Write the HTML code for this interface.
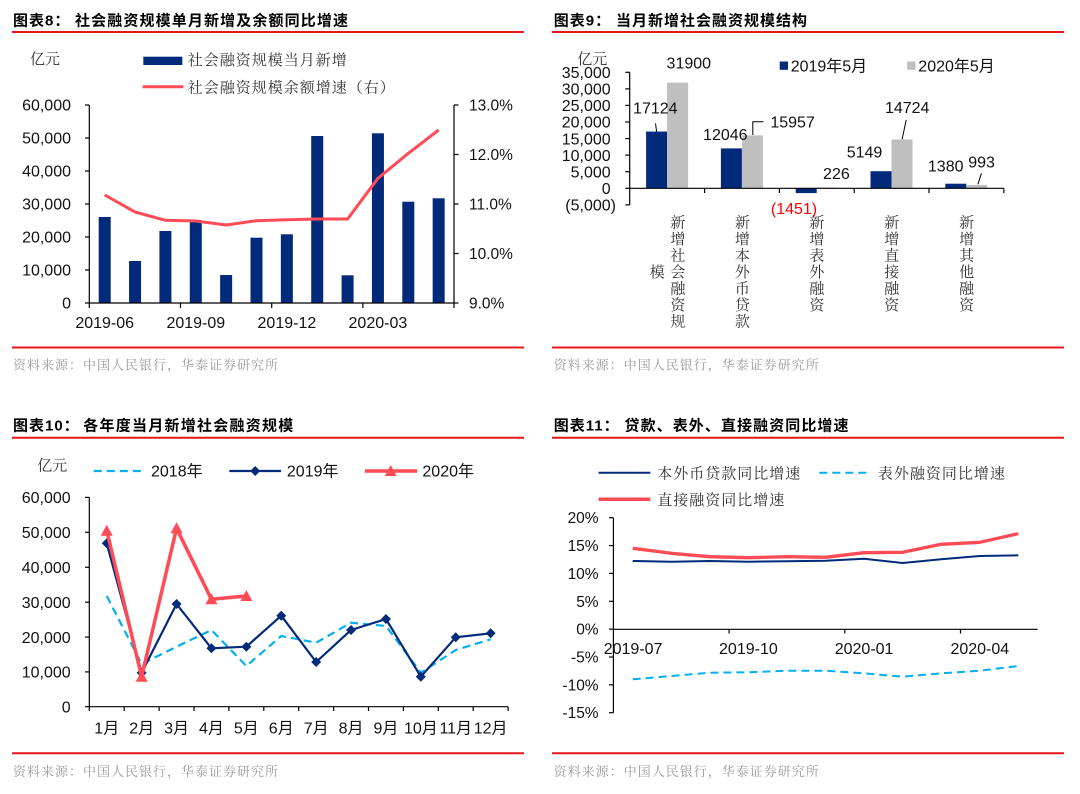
<!DOCTYPE html>
<html><head><meta charset="utf-8">
<style>
html,body{margin:0;padding:0;background:#fff;width:1080px;height:794px;overflow:hidden}
.t{font-family:"Liberation Sans","Noto Sans CJK SC",sans-serif;font-weight:bold;font-size:15px;letter-spacing:1px;fill:#000}
.n{font-family:"Liberation Sans","Noto Sans CJK SC",sans-serif;font-size:16px;fill:#111}
.m{font-family:"Liberation Sans","Noto Sans CJK SC",sans-serif;font-size:15.5px;fill:#111}
.c{font-family:"Liberation Sans","Noto Serif CJK SC",serif;font-size:15px;fill:#333;letter-spacing:1px}
.v{font-family:"Liberation Sans","Noto Serif CJK SC",serif;font-size:15px;fill:#333}
.s{font-family:"Liberation Sans","Noto Serif CJK SC",serif;font-size:13px;fill:#999}
</style></head>
<body>
<svg width="1080" height="794" xmlns="http://www.w3.org/2000/svg">
<!-- ============ Chart 8 ============ -->
<text class="t" x="13" y="25.5">图表8：</text>
<text class="t" x="75" y="25.5" textLength="274" lengthAdjust="spacing">社会融资规模单月新增及余额同比增速</text>
<line x1="12" y1="32" x2="524" y2="32" stroke="#E8151B" stroke-width="2"/>
<text class="v" x="30" y="64">亿元</text>
<rect x="143.3" y="56.7" width="39" height="8.3" fill="#012A7A"/>
<text class="c" x="187.7" y="65">社会融资规模当月新增</text>
<line x1="142.7" y1="86.7" x2="183.3" y2="86.7" stroke="#FF4B55" stroke-width="3"/>
<text class="c" x="187.7" y="92.4">社会融资规模余额增速（右）</text>
<g fill="#012A7A">
<rect x="98.7" y="217" width="12" height="86"/>
<rect x="129.06" y="261" width="12" height="42"/>
<rect x="159.42" y="231" width="12" height="72"/>
<rect x="189.78" y="221.7" width="12" height="81.3"/>
<rect x="220.14" y="275" width="12" height="28"/>
<rect x="250.5" y="237.7" width="12" height="65.3"/>
<rect x="280.86" y="234.3" width="12" height="68.7"/>
<rect x="311.22" y="136" width="12" height="167"/>
<rect x="341.58" y="275.3" width="12" height="27.7"/>
<rect x="371.94" y="133.3" width="12" height="169.7"/>
<rect x="402.3" y="201.7" width="12" height="101.3"/>
<rect x="432.66" y="198.3" width="12" height="104.7"/>
</g>
<polyline fill="none" stroke="#FF4B55" stroke-width="3" stroke-linejoin="round" points="104.7,195 135.06,212 165.42,220.3 195.78,221 226.14,225 256.5,220.7 286.86,219.7 317.22,219 347.58,219 377.94,178.3 408.3,153.3 438.66,130"/>
<g stroke="#000" stroke-width="1.2">
<line x1="89.3" y1="105" x2="89.3" y2="303"/>
<line x1="454" y1="105" x2="454" y2="303"/>
<line x1="89.3" y1="303" x2="454" y2="303"/>
<line x1="85" y1="105" x2="89.3" y2="105"/><line x1="85" y1="138" x2="89.3" y2="138"/><line x1="85" y1="171" x2="89.3" y2="171"/><line x1="85" y1="204" x2="89.3" y2="204"/><line x1="85" y1="237" x2="89.3" y2="237"/><line x1="85" y1="270" x2="89.3" y2="270"/><line x1="85" y1="303" x2="89.3" y2="303"/>
<line x1="454" y1="105" x2="458.5" y2="105"/><line x1="454" y1="154.5" x2="458.5" y2="154.5"/><line x1="454" y1="204" x2="458.5" y2="204"/><line x1="454" y1="253.5" x2="458.5" y2="253.5"/><line x1="454" y1="303" x2="458.5" y2="303"/>
<line x1="89.3" y1="303" x2="89.3" y2="308"/><line x1="180.5" y1="303" x2="180.5" y2="308"/><line x1="271.7" y1="303" x2="271.7" y2="308"/><line x1="362.9" y1="303" x2="362.9" y2="308"/><line x1="454" y1="303" x2="454" y2="308"/>
</g>
<g class="n" text-anchor="end">
<text x="71" y="110.7">60,000</text><text x="71" y="143.7">50,000</text><text x="71" y="176.7">40,000</text><text x="71" y="209.7">30,000</text><text x="71" y="242.7">20,000</text><text x="71" y="275.7">10,000</text><text x="71" y="308.7">0</text>
</g>
<g class="m">
<text x="469" y="110.5">13.0%</text><text x="469" y="160">12.0%</text><text x="469" y="209.5">11.0%</text><text x="469" y="259">10.0%</text><text x="469" y="308.5">9.0%</text>
</g>
<g class="n" text-anchor="middle">
<text x="104.7" y="328">2019-06</text><text x="195.8" y="328">2019-09</text><text x="286.9" y="328">2019-12</text><text x="377.9" y="328">2020-03</text>
</g>
<line x1="12" y1="347.5" x2="524" y2="347.5" stroke="#E8151B" stroke-width="2"/>
<text class="s" x="13" y="369.5" textLength="265" lengthAdjust="spacing">资料来源：中国人民银行，华泰证券研究所</text>

<!-- ============ Chart 9 ============ -->
<text class="t" x="553.8" y="25.5">图表9：</text>
<text class="t" x="616" y="25.5" textLength="192" lengthAdjust="spacing">当月新增社会融资规模结构</text>
<line x1="552" y1="32" x2="1064" y2="32" stroke="#E8151B" stroke-width="2"/>
<text class="v" x="577.2" y="64">亿元</text>
<rect x="779.7" y="61.5" width="8.3" height="8.3" fill="#012A7A"/>
<text class="n" x="790.7" y="71.4">2019年5月</text>
<rect x="907.2" y="61.5" width="8.3" height="8.3" fill="#BFBFBF"/>
<text class="n" x="918.3" y="71.4">2020年5月</text>
<g fill="#012A7A">
<rect x="646.1" y="131.55" width="21" height="56.75"/>
<rect x="720.9" y="148.4" width="21" height="39.9"/>
<rect x="795.7" y="188.3" width="21" height="4.8"/>
<rect x="870.5" y="171.2" width="21" height="17.1"/>
<rect x="945.3" y="183.7" width="21" height="4.6"/>
</g>
<g fill="#BFBFBF">
<rect x="667.1" y="82.6" width="21" height="105.7"/>
<rect x="741.9" y="135.4" width="21" height="52.9"/>
<rect x="816.7" y="187.5" width="21" height="0.8"/>
<rect x="891.5" y="139.5" width="21" height="48.8"/>
<rect x="966.3" y="185" width="21" height="3.3"/>
</g>
<g stroke="#000" stroke-width="1.2">
<line x1="629.7" y1="72.3" x2="629.7" y2="204.9"/>
<line x1="629.7" y1="188.3" x2="1003.8" y2="188.3"/>
<line x1="625.3" y1="72.3" x2="629.7" y2="72.3"/><line x1="625.3" y1="88.9" x2="629.7" y2="88.9"/><line x1="625.3" y1="105.4" x2="629.7" y2="105.4"/><line x1="625.3" y1="122" x2="629.7" y2="122"/><line x1="625.3" y1="138.6" x2="629.7" y2="138.6"/><line x1="625.3" y1="155.1" x2="629.7" y2="155.1"/><line x1="625.3" y1="171.7" x2="629.7" y2="171.7"/><line x1="625.3" y1="188.3" x2="629.7" y2="188.3"/><line x1="625.3" y1="204.9" x2="629.7" y2="204.9"/>
<line x1="704.6" y1="188.3" x2="704.6" y2="193"/><line x1="779.4" y1="188.3" x2="779.4" y2="193"/><line x1="854.2" y1="188.3" x2="854.2" y2="193"/><line x1="929" y1="188.3" x2="929" y2="193"/><line x1="1003.8" y1="188.3" x2="1003.8" y2="193"/>
</g>
<g stroke="#000" stroke-width="1" fill="none">
<line x1="655.5" y1="123.3" x2="656.6" y2="131.7"/>
<polyline points="752.8,135 752.8,121.7 763.4,121.7"/>
<line x1="906.2" y1="120" x2="902.1" y2="139.3"/>
<line x1="981.4" y1="173.3" x2="977.9" y2="184.3"/>
</g>
<g class="n" text-anchor="end">
<text x="610.7" y="78">35,000</text><text x="610.7" y="94.6">30,000</text><text x="610.7" y="111.1">25,000</text><text x="610.7" y="127.7">20,000</text><text x="610.7" y="144.3">15,000</text><text x="610.7" y="160.8">10,000</text><text x="610.7" y="177.4">5,000</text><text x="610.7" y="194">0</text><text x="616" y="210.6">(5,000)</text>
</g>
<g class="n" text-anchor="middle">
<text x="688.8" y="68.4">31900</text>
<text x="655.3" y="113.4">17124</text>
<text x="725.3" y="140">12046</text>
<text x="792.6" y="127.4">15957</text>
<text x="836.4" y="179">226</text>
<text x="794" y="214" fill="#FF0000">(1451)</text>
<text x="864.5" y="157.4">5149</text>
<text x="907.2" y="113">14724</text>
<text x="945.7" y="171.4">1380</text>
<text x="981.6" y="167.4">993</text>
</g>
<g class="v" text-anchor="middle">
<text x="677.9" y="227.4">新</text><text x="677.9" y="243.9">增</text><text x="677.9" y="260.4">社</text><text x="677.9" y="276.9">会</text><text x="677.9" y="293.4">融</text><text x="677.9" y="309.9">资</text><text x="677.9" y="326.4">规</text>
<text x="657.2" y="276.9">模</text>
<text x="742.4" y="227.4">新</text><text x="742.4" y="243.9">增</text><text x="742.4" y="260.4">本</text><text x="742.4" y="276.9">外</text><text x="742.4" y="293.4">币</text><text x="742.4" y="309.9">贷</text><text x="742.4" y="326.4">款</text>
<text x="816.9" y="227.4">新</text><text x="816.9" y="243.9">增</text><text x="816.9" y="260.4">表</text><text x="816.9" y="276.9">外</text><text x="816.9" y="293.4">融</text><text x="816.9" y="309.9">资</text>
<text x="891.7" y="227.4">新</text><text x="891.7" y="243.9">增</text><text x="891.7" y="260.4">直</text><text x="891.7" y="276.9">接</text><text x="891.7" y="293.4">融</text><text x="891.7" y="309.9">资</text>
<text x="966.6" y="227.4">新</text><text x="966.6" y="243.9">增</text><text x="966.6" y="260.4">其</text><text x="966.6" y="276.9">他</text><text x="966.6" y="293.4">融</text><text x="966.6" y="309.9">资</text>
</g>
<line x1="552" y1="347.5" x2="1064" y2="347.5" stroke="#E8151B" stroke-width="2"/>
<text class="s" x="553.8" y="369.5" textLength="265" lengthAdjust="spacing">资料来源：中国人民银行，华泰证券研究所</text>

<!-- ============ Chart 10 ============ -->
<text class="t" x="13" y="430.5">图表10：</text>
<text class="t" x="83.3" y="430.5" textLength="211" lengthAdjust="spacing">各年度当月新增社会融资规模</text>
<line x1="12" y1="437.7" x2="524" y2="437.7" stroke="#E8151B" stroke-width="2"/>
<text class="v" x="37.2" y="470.7">亿元</text>
<line x1="93.8" y1="471" x2="143.1" y2="471" stroke="#00B0F0" stroke-width="2.2" stroke-dasharray="8,5"/>
<text class="n" x="151" y="476.7">2018年</text>
<line x1="229.3" y1="471" x2="281" y2="471" stroke="#012A7A" stroke-width="2.2"/>
<path d="M255.2,466 L260.2,471 L255.2,476 L250.2,471 Z" fill="#012A7A"/>
<text class="n" x="286.9" y="476.7">2019年</text>
<line x1="364.8" y1="471" x2="417.2" y2="471" stroke="#FF4B55" stroke-width="3.5"/>
<path d="M390.7,465 L396.7,476 L384.7,476 Z" fill="#FF4B55"/>
<text class="n" x="422.4" y="476.7">2020年</text>
<g stroke="#000" stroke-width="1.2">
<line x1="89.3" y1="497.4" x2="89.3" y2="706.7"/>
<line x1="89.3" y1="706.7" x2="508.1" y2="706.7"/>
<line x1="85" y1="497.4" x2="89.3" y2="497.4"/><line x1="85" y1="532.3" x2="89.3" y2="532.3"/><line x1="85" y1="567.3" x2="89.3" y2="567.3"/><line x1="85" y1="602.2" x2="89.3" y2="602.2"/><line x1="85" y1="637.1" x2="89.3" y2="637.1"/><line x1="85" y1="671.9" x2="89.3" y2="671.9"/><line x1="85" y1="706.7" x2="89.3" y2="706.7"/>
<line x1="89.3" y1="706.7" x2="89.3" y2="711"/><line x1="124.2" y1="706.7" x2="124.2" y2="711"/><line x1="159.1" y1="706.7" x2="159.1" y2="711"/><line x1="194" y1="706.7" x2="194" y2="711"/><line x1="228.9" y1="706.7" x2="228.9" y2="711"/><line x1="263.8" y1="706.7" x2="263.8" y2="711"/><line x1="298.7" y1="706.7" x2="298.7" y2="711"/><line x1="333.6" y1="706.7" x2="333.6" y2="711"/><line x1="368.5" y1="706.7" x2="368.5" y2="711"/><line x1="403.4" y1="706.7" x2="403.4" y2="711"/><line x1="438.3" y1="706.7" x2="438.3" y2="711"/><line x1="473.2" y1="706.7" x2="473.2" y2="711"/><line x1="508.1" y1="706.7" x2="508.1" y2="711"/>
</g>
<g class="n" text-anchor="end">
<text x="70.7" y="503.1">60,000</text><text x="70.7" y="538">50,000</text><text x="70.7" y="573">40,000</text><text x="70.7" y="607.9">30,000</text><text x="70.7" y="642.8">20,000</text><text x="70.7" y="677.6">10,000</text><text x="70.7" y="712.4">0</text>
</g>
<g class="n" text-anchor="middle">
<text x="106.75" y="733.4">1月</text><text x="141.65" y="733.4">2月</text><text x="176.55" y="733.4">3月</text><text x="211.45" y="733.4">4月</text><text x="246.35" y="733.4">5月</text><text x="281.25" y="733.4">6月</text><text x="316.15" y="733.4">7月</text><text x="351.05" y="733.4">8月</text><text x="385.95" y="733.4">9月</text><text x="420.85" y="733.4">10月</text><text x="455.75" y="733.4">11月</text><text x="490.65" y="733.4">12月</text>
</g>
<polyline fill="none" stroke="#00B0F0" stroke-width="2.2" stroke-dasharray="8,5" points="106.75,596 141.65,664 176.55,646.7 211.45,630 246.35,666 281.25,636 316.15,642.7 351.05,622.7 385.95,626 420.85,672.7 455.75,650 490.65,639.3"/>
<polyline fill="none" stroke="#012A7A" stroke-width="2.2" stroke-linejoin="round" points="106.75,543.3 141.65,672.7 176.55,604 211.45,648.3 246.35,646.7 281.25,615.7 316.15,662 351.05,630 385.95,619 420.85,676.7 455.75,637.3 490.65,633.3"/>
<g fill="#012A7A">
<path d="M106.75,538.3 l5,5 l-5,5 l-5,-5 z"/><path d="M141.65,667.7 l5,5 l-5,5 l-5,-5 z"/><path d="M176.55,599 l5,5 l-5,5 l-5,-5 z"/><path d="M211.45,643.3 l5,5 l-5,5 l-5,-5 z"/><path d="M246.35,641.7 l5,5 l-5,5 l-5,-5 z"/><path d="M281.25,610.7 l5,5 l-5,5 l-5,-5 z"/><path d="M316.15,657 l5,5 l-5,5 l-5,-5 z"/><path d="M351.05,625 l5,5 l-5,5 l-5,-5 z"/><path d="M385.95,614 l5,5 l-5,5 l-5,-5 z"/><path d="M420.85,671.7 l5,5 l-5,5 l-5,-5 z"/><path d="M455.75,632.3 l5,5 l-5,5 l-5,-5 z"/><path d="M490.65,628.3 l5,5 l-5,5 l-5,-5 z"/>
</g>
<polyline fill="none" stroke="#FF4B55" stroke-width="3.5" stroke-linejoin="round" points="106.75,530.7 141.65,676.7 176.55,528.3 211.45,599.3 246.35,596"/>
<g fill="#FF4B55">
<path d="M106.75,524.7 l6,11 l-12,0 z"/><path d="M141.65,670.7 l6,11 l-12,0 z"/><path d="M176.55,522.3 l6,11 l-12,0 z"/><path d="M211.45,593.3 l6,11 l-12,0 z"/><path d="M246.35,590 l6,11 l-12,0 z"/>
</g>
<line x1="12" y1="753.3" x2="524" y2="753.3" stroke="#E8151B" stroke-width="2"/>
<text class="s" x="13" y="776" textLength="265" lengthAdjust="spacing">资料来源：中国人民银行，华泰证券研究所</text>

<!-- ============ Chart 11 ============ -->
<text class="t" x="553.8" y="430.5">图表11：</text>
<text class="t" x="624.5" y="430.5" textLength="225" lengthAdjust="spacing">贷款、表外、直接融资同比增速</text>
<line x1="552" y1="437.7" x2="1064" y2="437.7" stroke="#E8151B" stroke-width="2"/>
<line x1="598.6" y1="472.7" x2="650.3" y2="472.7" stroke="#012A7A" stroke-width="2"/>
<text class="c" x="657.2" y="478.4">本外币贷款同比增速</text>
<line x1="819.3" y1="472.7" x2="871" y2="472.7" stroke="#00B0F0" stroke-width="2" stroke-dasharray="8,5"/>
<text class="c" x="877.9" y="478.4">表外融资同比增速</text>
<line x1="598.6" y1="499.3" x2="650.3" y2="499.3" stroke="#FF4B55" stroke-width="3.5"/>
<text class="c" x="657.2" y="505">直接融资同比增速</text>
<g stroke="#000" stroke-width="1.2">
<line x1="613.4" y1="517.7" x2="613.4" y2="712.7"/>
<line x1="613.4" y1="629.3" x2="1037.6" y2="629.3"/>
<line x1="609" y1="517.7" x2="613.4" y2="517.7"/><line x1="609" y1="545.56" x2="613.4" y2="545.56"/><line x1="609" y1="573.42" x2="613.4" y2="573.42"/><line x1="609" y1="601.28" x2="613.4" y2="601.28"/><line x1="609" y1="629.14" x2="613.4" y2="629.14"/><line x1="609" y1="657" x2="613.4" y2="657"/><line x1="609" y1="684.86" x2="613.4" y2="684.86"/><line x1="609" y1="712.7" x2="613.4" y2="712.7"/>
<line x1="729.1" y1="629.3" x2="729.1" y2="633.5"/><line x1="844.8" y1="629.3" x2="844.8" y2="633.5"/><line x1="960.5" y1="629.3" x2="960.5" y2="633.5"/>
</g>
<g class="m" text-anchor="end">
<text x="598.6" y="523.2">20%</text><text x="598.6" y="551.1">15%</text><text x="598.6" y="578.9">10%</text><text x="598.6" y="606.8">5%</text><text x="598.6" y="634.6">0%</text><text x="598.6" y="662.5">-5%</text><text x="598.6" y="690.4">-10%</text><text x="598.6" y="718.2">-15%</text>
</g>
<g class="n" text-anchor="middle">
<text x="633.1" y="654">2019-07</text><text x="748.4" y="654">2019-10</text><text x="864.1" y="654">2020-01</text><text x="979.8" y="654">2020-04</text>
</g>
<polyline fill="none" stroke="#012A7A" stroke-width="2" stroke-linejoin="round" points="632.7,561 671.26,561.7 709.82,561 748.38,561.7 786.94,561.3 825.5,560.7 864.06,558.7 902.62,563 941.18,559.3 979.74,556 1018.3,555.3"/>
<polyline fill="none" stroke="#FF4B55" stroke-width="3.3" stroke-linejoin="round" points="632.7,548.3 671.26,553.3 709.82,556.7 748.38,557.7 786.94,556.7 825.5,557.3 864.06,552.7 902.62,552.3 941.18,544.3 979.74,542.3 1018.3,533.7"/>
<polyline fill="none" stroke="#00B0F0" stroke-width="2" stroke-dasharray="8,5" points="632.7,679.3 671.26,676 709.82,672.7 748.38,672.3 786.94,670.7 825.5,670.7 864.06,673.3 902.62,676.7 941.18,673.3 979.74,670.7 1018.3,666"/>
<line x1="552" y1="753.3" x2="1064" y2="753.3" stroke="#E8151B" stroke-width="2"/>
<text class="s" x="553.8" y="776" textLength="265" lengthAdjust="spacing">资料来源：中国人民银行，华泰证券研究所</text>
</svg>
</body></html>
